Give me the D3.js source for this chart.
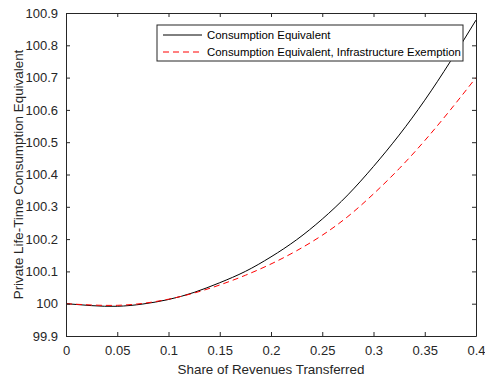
<!DOCTYPE html>
<html>
<head>
<meta charset="utf-8">
<script src="https://cdn.jsdelivr.net/npm/d3@7"></script>
<style>
  html, body { margin: 0; padding: 0; background: #fff; }
  svg text { font-family: 'Liberation Sans', Arial, sans-serif; }
</style>
</head>
<body>
<div id="chart"></div>
<script>
// values
const shares = [0, 0.025, 0.05, 0.075, 0.1, 0.125, 0.15, 0.175, 0.2, 0.225, 0.25, 0.275, 0.3, 0.325, 0.35, 0.375, 0.4];
const consEquiv = [100.000, 99.994, 99.992, 99.999, 100.013, 100.035, 100.065, 100.100, 100.145, 100.198, 100.262, 100.337, 100.425, 100.522, 100.630, 100.750, 100.878];
const consEquivInfra = [100.000, 99.996, 99.995, 100.001, 100.014, 100.033, 100.058, 100.088, 100.123, 100.164, 100.212, 100.270, 100.340, 100.418, 100.505, 100.600, 100.700];
const xTicks = [0, 0.05, 0.1, 0.15, 0.2, 0.25, 0.3, 0.35, 0.4];
const yTicks = [99.9, 100, 100.1, 100.2, 100.3, 100.4, 100.5, 100.6, 100.7, 100.8, 100.9];
const seriesNames = ['Consumption Equivalent', 'Consumption Equivalent, Infrastructure Exemption'];

const W = 485, H = 379;
const margin = { top: 13, right: 9, bottom: 43, left: 66 };
const width = W - margin.left - margin.right;
const height = H - margin.top - margin.bottom;
const axisColor = '#262626';

const svg = d3.select('#chart').append('svg')
  .attr('width', W).attr('height', H);

const g = svg.append('g')
  .attr('transform', `translate(${margin.left},${margin.top})`);

const x = d3.scaleLinear().domain([0, 0.4]).range([0, width]);
const y = d3.scaleLinear().domain([99.9, 100.9]).range([height, 0]);

// curves
const series = [
  { name: seriesNames[0], values: consEquiv, color: '#000000', dash: null },
  { name: seriesNames[1], values: consEquivInfra, color: '#ff0000', dash: '6,4' }
];

const line = d3.line()
  .x(d => x(d[0]))
  .y(d => y(d[1]))
  .curve(d3.curveNatural);

g.selectAll('.curve')
  .data(series)
  .enter().append('path')
  .attr('class', 'curve')
  .attr('d', s => line(shares.map((v, i) => [v, s.values[i]])))
  .attr('fill', 'none')
  .attr('stroke', s => s.color)
  .attr('stroke-width', 1)
  .attr('stroke-dasharray', s => s.dash);

// axes (ticks inside, box all round)
const fmtX = d => d === 0 ? '0' : String(+d.toFixed(2));
const fmtY = d => String(+d.toFixed(1));

g.append('g')
  .attr('transform', `translate(0,${height})`)
  .call(d3.axisBottom(x).tickValues(xTicks).tickFormat(fmtX).tickSizeInner(-4).tickSizeOuter(0).tickPadding(10));

g.append('g')
  .call(d3.axisLeft(y).tickValues(yTicks).tickFormat(fmtY).tickSizeInner(-4).tickSizeOuter(0).tickPadding(8));

g.append('g')
  .call(d3.axisTop(x).tickValues(xTicks).tickFormat('').tickSizeInner(-4).tickSizeOuter(0));

g.append('g')
  .attr('transform', `translate(${width},0)`)
  .call(d3.axisRight(y).tickValues(yTicks).tickFormat('').tickSizeInner(-4).tickSizeOuter(0));

g.selectAll('.domain').attr('stroke', axisColor);
g.selectAll('.tick line').attr('stroke', axisColor);
g.selectAll('.tick text')
  .style('font-size', '13px')
  .style('fill', axisColor);

// axis labels
svg.append('text')
  .attr('x', margin.left + width / 2)
  .attr('y', 374)
  .attr('text-anchor', 'middle')
  .style('font-size', '13.4px')
  .style('fill', axisColor)
  .text('Share of Revenues Transferred');

svg.append('text')
  .attr('transform', `translate(23,${margin.top + height / 2}) rotate(-90)`)
  .attr('text-anchor', 'middle')
  .style('font-size', '13.4px')
  .style('fill', axisColor)
  .text('Private Life-Time Consumption Equivalent');

// legend
const legend = svg.append('g').attr('transform', 'translate(157,25)');
legend.append('rect')
  .attr('width', 306).attr('height', 36)
  .attr('fill', '#fff')
  .attr('stroke', axisColor)
  .attr('stroke-width', 1);

const rows = legend.selectAll('.leg-row')
  .data(series)
  .enter().append('g')
  .attr('class', 'leg-row')
  .attr('transform', (d, i) => `translate(0,${10 + i * 17})`);

rows.append('line')
  .attr('x1', 6).attr('x2', 45)
  .attr('stroke', d => d.color)
  .attr('stroke-dasharray', d => d.dash);

rows.append('text')
  .attr('x', 50)
  .attr('dy', '0.35em')
  .style('font-size', '11.4px')
  .style('fill', '#000')
  .text(d => d.name);
</script>
</body>
</html>
